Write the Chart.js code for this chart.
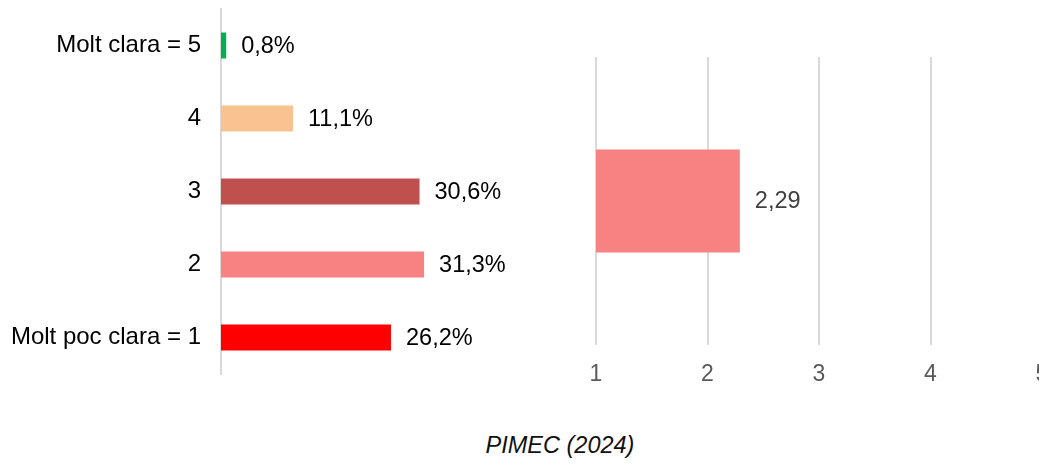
<!DOCTYPE html>
<html>
<head>
<meta charset="utf-8">
<script src="https://cdn.jsdelivr.net/npm/chart.js@4/dist/chart.umd.min.js"></script>
<style>
  html, body { margin: 0; padding: 0; background: #fff; overflow: hidden; width: 1039px; height: 464px; }
  #grafico-esq { position: absolute; left: 0; top: 0; }
  #grafico-dir { position: absolute; left: 540px; top: 0; }
  #font { position: absolute; left: 0; width: 1120px; top: 432px; text-align: center;
    font: italic 23.5px "Liberation Sans", Arial, sans-serif; color: #111; }
</style>
</head>
<body>
<canvas id="grafico-esq" width="540" height="400"></canvas>
<canvas id="grafico-dir" width="560" height="400"></canvas>
<div id="font">PIMEC (2024)</div>

<script>
const categories = ["Molt clara = 5", "4", "3", "2", "Molt poc clara = 1"];
const percentatges = [0.8, 11.1, 30.6, 31.3, 26.2];
const colors = ["#00b050", "#f8c291", "#c0504d", "#f78282", "#ff0000"];

const mitjanaLabel = ["Mitjana"];
const mitjana = [2.29];
const escalaTicks = [1, 2, 3, 4, 5];

const FONT = "'Liberation Sans', Arial, sans-serif";

function formatarValor(v, decimals, sufix) {
  return v.toFixed(decimals).replace(".", ",") + sufix;
}

// dibuixa l'etiqueta de valor al final de cada barra
function etiquetes(valors, decimals, sufix, color) {
  return {
    id: "etiquetes",
    afterDatasetsDraw(chart) {
      const ctx = chart.ctx;
      const meta = chart.getDatasetMeta(0);
      ctx.save();
      ctx.font = "23.5px " + FONT;
      ctx.fillStyle = color;
      ctx.textAlign = "left";
      ctx.textBaseline = "middle";
      meta.data.forEach((bar, i) => {
        ctx.fillText(formatarValor(valors[i], decimals, sufix), bar.x + 15, bar.y + 1);
      });
      ctx.restore();
    }
  };
}

new Chart(document.getElementById("grafico-esq").getContext("2d"), {
  type: "bar",
  data: {
    labels: categories,
    datasets: [{
      data: percentatges,
      backgroundColor: colors,
      categoryPercentage: 1,
      barPercentage: 0.356
    }]
  },
  options: {
    indexAxis: "y",
    responsive: false,
    animation: false,
    layout: { padding: { top: 9, bottom: 26, left: 0, right: 40 } },
    plugins: { legend: { display: false }, tooltip: { enabled: false } },
    scales: {
      x: { display: false, min: 0, max: 43 },
      y: {
        grid: { display: false, drawTicks: false },
        border: { color: "#d9d9d9", width: 2 },
        ticks: { color: "#000", font: { family: FONT, size: 24 }, padding: 20 },
        afterFit(scale) {
          scale.width = 221;
          scale.paddingTop = 0;
          scale.paddingBottom = 0;
        }
      }
    }
  },
  plugins: [etiquetes(percentatges, 1, "%", "#000")]
});

new Chart(document.getElementById("grafico-dir").getContext("2d"), {
  type: "bar",
  data: {
    labels: mitjanaLabel,
    datasets: [{
      data: mitjana.map(v => [escalaTicks[0], v]),
      backgroundColor: "#f78282",
      categoryPercentage: 1,
      barPercentage: 0.358
    }]
  },
  options: {
    indexAxis: "y",
    responsive: false,
    animation: false,
    layout: { padding: { top: 57, bottom: 0, left: 56, right: 58 } },
    plugins: { legend: { display: false }, tooltip: { enabled: false } },
    scales: {
      y: { display: false },
      x: {
        min: escalaTicks[0],
        max: escalaTicks[escalaTicks.length - 1],
        grid: { color: "#d9d9d9", lineWidth: 2, drawTicks: false },
        border: { display: false },
        ticks: { stepSize: 1, color: "#595959", font: { family: FONT, size: 23 }, padding: 16 },
        afterFit(scale) { scale.height = 55; }
      }
    }
  },
  plugins: [etiquetes(mitjana, 2, "", "#404040")]
});
</script>
</body>
</html>
